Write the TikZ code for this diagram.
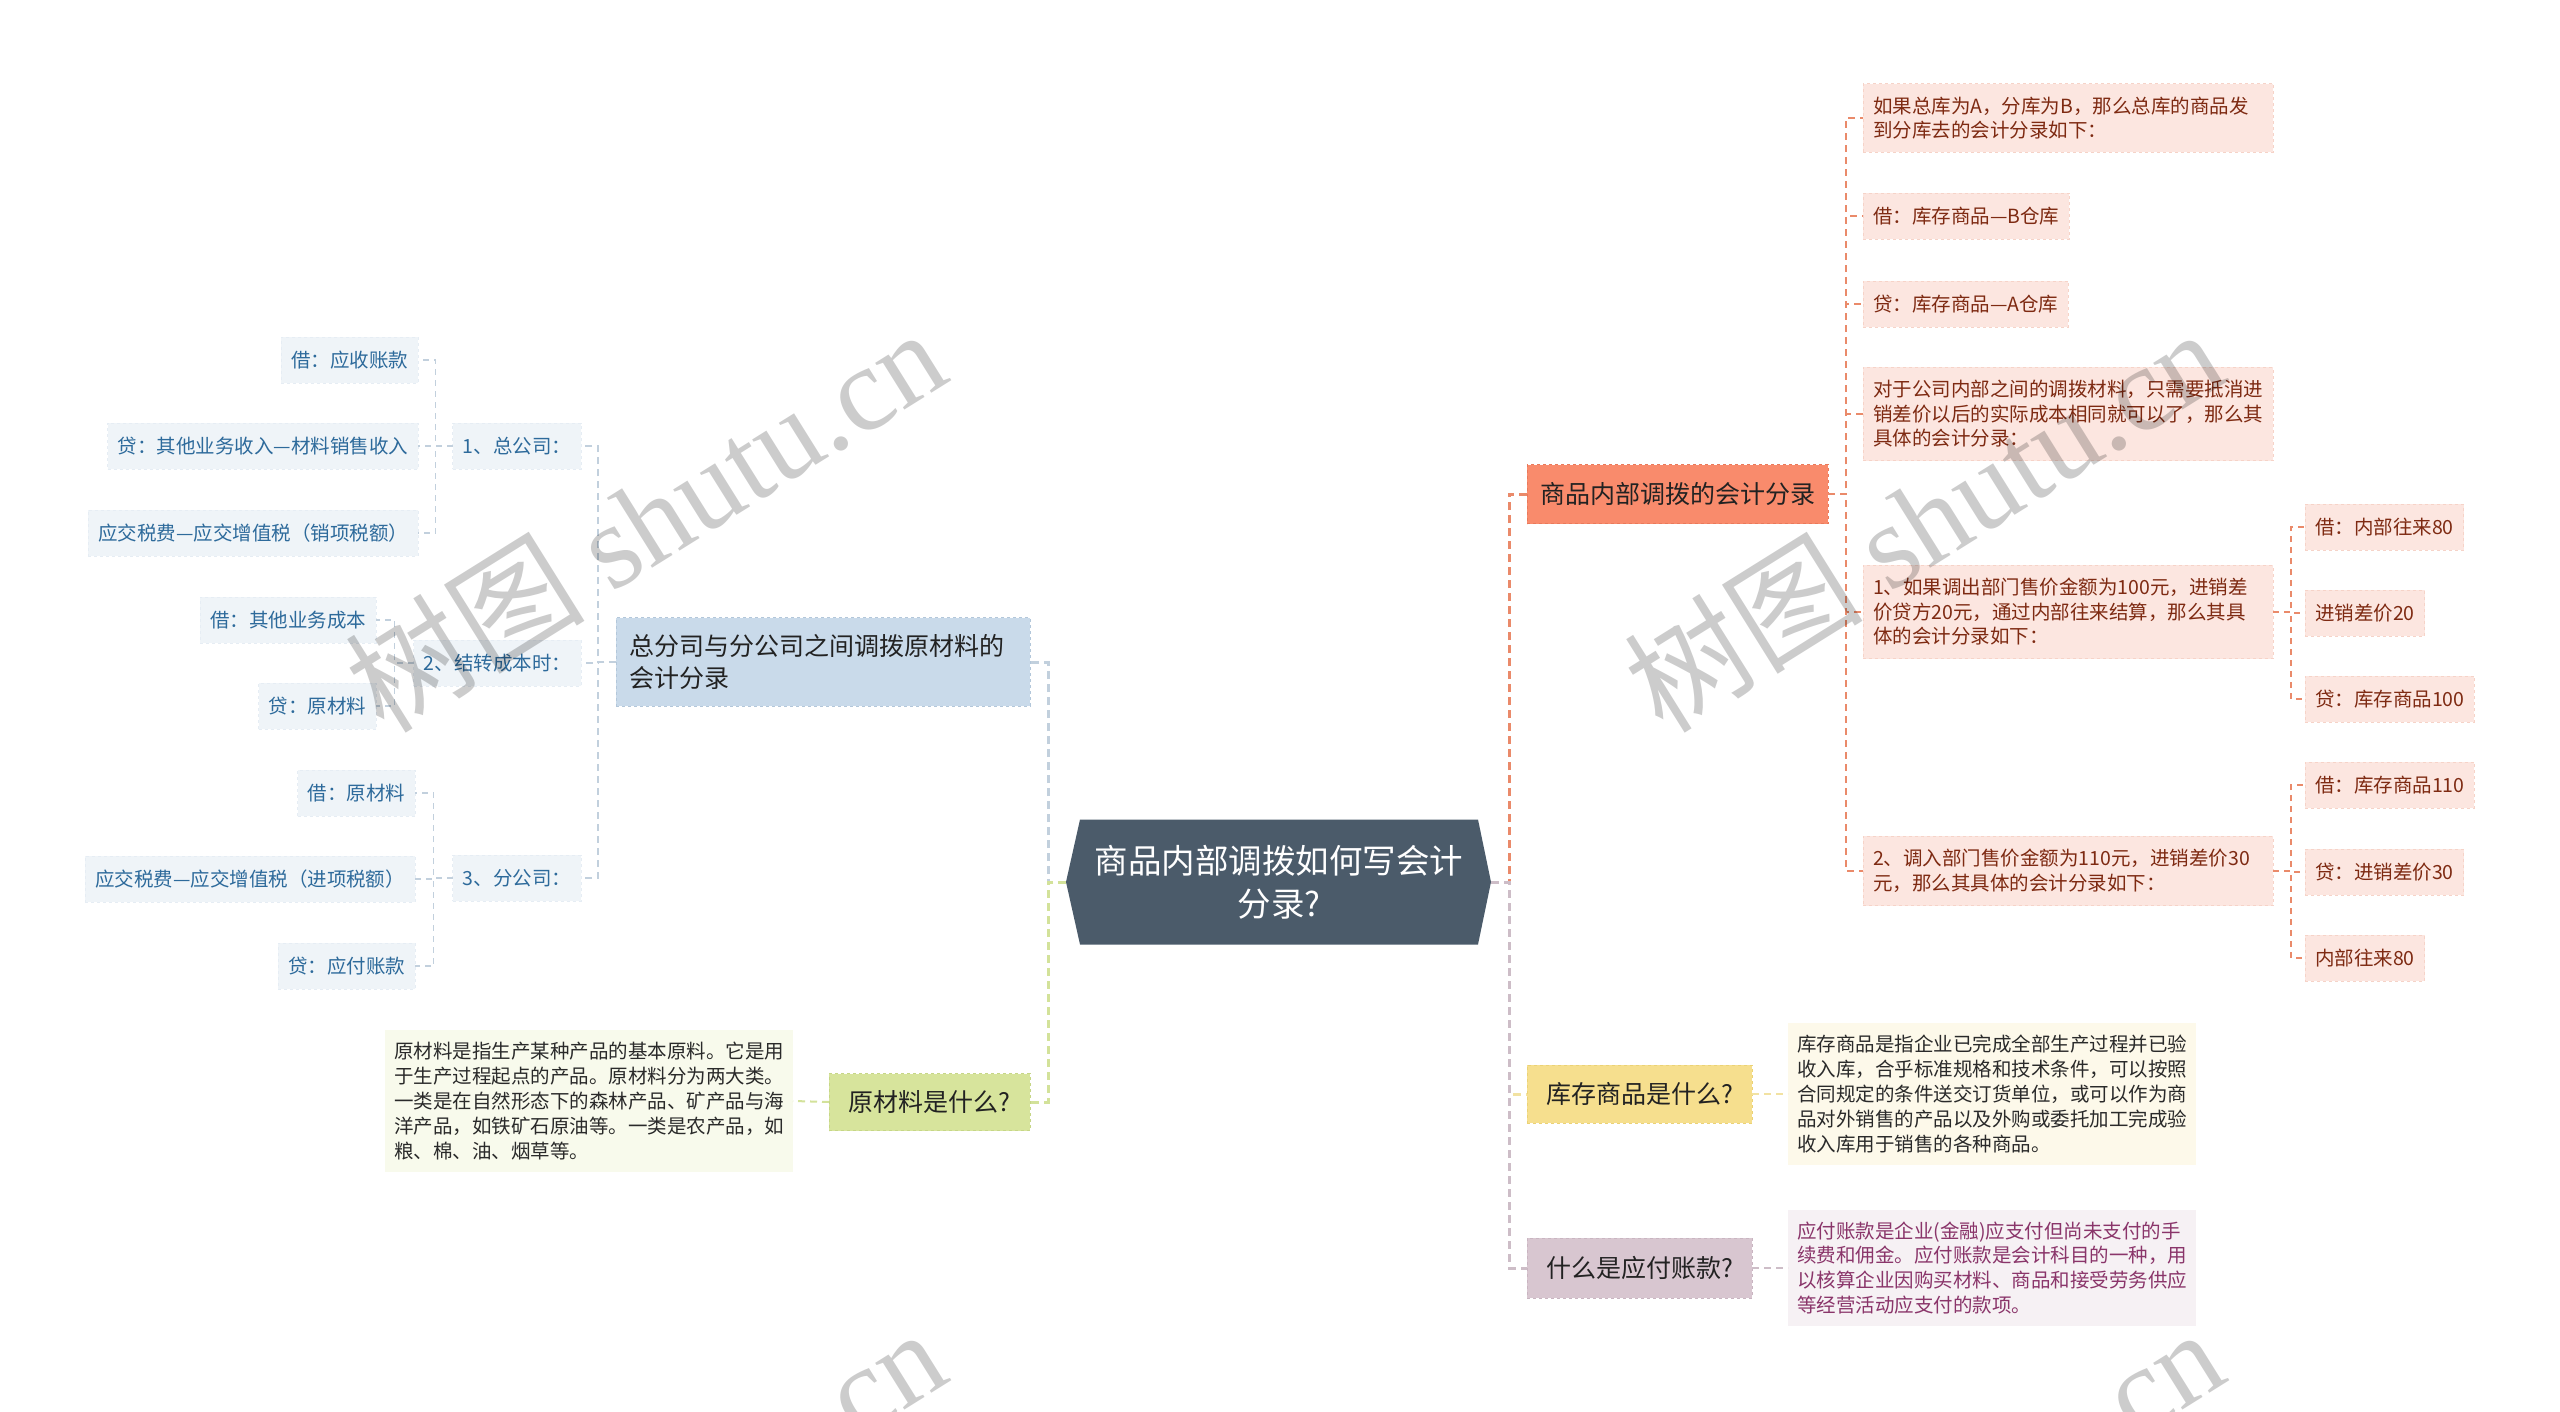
\documentclass[tikz,border=0pt]{standalone}
\usepackage{fontspec}
\setmainfont{Noto Sans CJK SC}
\newfontfamily\wmlatin{Liberation Serif}
\usetikzlibrary{backgrounds}
\definecolor{cfill}{HTML}{4B5B6A}
\definecolor{txt}{HTML}{222222}
\definecolor{ofill}{HTML}{F98B6C}
\definecolor{oborder}{HTML}{E97A5B}
\definecolor{oline}{HTML}{EA8A6A}
\definecolor{olfill}{HTML}{FCE6E0}
\definecolor{olborder}{HTML}{F6D3C8}
\definecolor{oltext}{HTML}{7E2A12}
\definecolor{bfill}{HTML}{C9DAEA}
\definecolor{bborder}{HTML}{B3C7DA}
\definecolor{bline}{HTML}{C2D0DD}
\definecolor{blfill}{HTML}{EFF4F8}
\definecolor{blborder}{HTML}{E6EDF4}
\definecolor{bltext}{HTML}{2D6A9B}
\definecolor{gfill}{HTML}{D7E49C}
\definecolor{gborder}{HTML}{C6D687}
\definecolor{gline}{HTML}{D3E29A}
\definecolor{gdfill}{HTML}{F8FAEC}
\definecolor{gdtext}{HTML}{2A2A2A}
\definecolor{yfill}{HTML}{F6DF8E}
\definecolor{yborder}{HTML}{EBD276}
\definecolor{yline}{HTML}{F2E2A2}
\definecolor{ydfill}{HTML}{FDF9EA}
\definecolor{ydtext}{HTML}{2A2A2A}
\definecolor{mfill}{HTML}{D8C6D0}
\definecolor{mborder}{HTML}{C9B5C1}
\definecolor{mline}{HTML}{CDBDC7}
\definecolor{mdfill}{HTML}{F6F1F4}
\definecolor{mdtext}{HTML}{8A356A}
\tikzset{
  every node/.style={inner sep=0pt, outer sep=0pt},
  hub/.style={minimum width=398pt, minimum height=125pt, text=white, align=center,
    font=\fontsize{33.5}{43}\selectfont},
  mainbox/.style={fill=#1fill, draw=#1border, dashed, line width=1pt, text=txt,
    font=\fontsize{25}{32}\selectfont, inner xsep=13pt, inner ysep=16.5pt},
  leaf/.style={fill=#1lfill, draw=#1lborder, dashed, line width=0.8pt, text=#1ltext,
    font=\fontsize{19.5}{24.5}\selectfont, inner xsep=10pt, inner ysep=13pt, align=left},
  one/.style={minimum height=46pt},
  desc/.style={fill=#1dfill, text=#1dtext, font=\fontsize{19.5}{24.9}\selectfont,
    align=left, inner xsep=9pt, inner ysep=12pt},
  connA/.style={draw=#1, line width=3pt, dash pattern=on 8pt off 5pt},
  connB/.style={draw=#1, line width=2pt, dash pattern=on 7pt off 5pt},
  connC/.style={draw=#1, line width=1.5pt, dash pattern=on 6pt off 5pt},
  wm/.style={text=black, opacity=0.2, font=\fontsize{120}{120}\selectfont}
}
\begin{document}
\begin{tikzpicture}[x=1pt,y=-1pt]
\useasboundingbox (0,0) rectangle (2560,1412);

% central node
\node[hub] (c) at (1279,882) {商品内部调拨如何写会计\\分录?};
\coordinate (cL) at (1066,882);
\coordinate (cR) at (1491,882);
\begin{scope}[on background layer]
\fill[white] (0,0) rectangle (2560,1412);
\fill[cfill] (cL) -- (c.north west) -- (c.north east) -- (cR) -- (c.south east) -- (c.south west) -- cycle;
\end{scope}

% main branches
\node[mainbox=b, anchor=west, text width=388pt, align=left] (B) at (616,662) {总分司与分公司之间调拨原材料的\\会计分录};
\node[mainbox=g, anchor=east, minimum width=201pt, minimum height=57pt] (G) at (1030,1102) {原材料是什么?};
\node[mainbox=o, anchor=west, minimum width=300pt, minimum height=59pt] (O) at (1527,494) {商品内部调拨的会计分录};
\node[mainbox=y, anchor=west, minimum width=225pt, minimum height=58pt] (Y) at (1527,1094) {库存商品是什么?};
\node[mainbox=m, anchor=west, minimum width=225pt, minimum height=60pt] (M) at (1527,1268) {什么是应付账款?};

% descriptions
\node[desc=g, anchor=east] (GD) at (793,1101) {原材料是指生产某种产品的基本原料。它是用\\于生产过程起点的产品。原材料分为两大类。\\一类是在自然形态下的森林产品、矿产品与海\\洋产品，如铁矿石原油等。一类是农产品，如\\粮、棉、油、烟草等。};
\node[desc=y, anchor=west] (YD) at (1788,1094) {库存商品是指企业已完成全部生产过程并已验\\收入库，合乎标准规格和技术条件，可以按照\\合同规定的条件送交订货单位，或可以作为商\\品对外销售的产品以及外购或委托加工完成验\\收入库用于销售的各种商品。};
\node[desc=m, anchor=west] (MD) at (1788,1268) {应付账款是企业(金融)应支付但尚未支付的手\\续费和佣金。应付账款是会计科目的一种，用\\以核算企业因购买材料、商品和接受劳务供应\\等经营活动应支付的款项。};

% left subtree
\node[leaf=b, one, anchor=east] (L1) at (581,446) {1、总公司：};
\node[leaf=b, one, anchor=east] (L2) at (581,663) {2、结转成本时：};
\node[leaf=b, one, anchor=east] (L3) at (581,878) {3、分公司：};
\node[leaf=b, one, anchor=east] (L1a) at (418,360) {借：应收账款};
\node[leaf=b, one, anchor=east] (L1b) at (418,446) {贷：其他业务收入—材料销售收入};
\node[leaf=b, one, anchor=east] (L1c) at (418,533) {应交税费—应交增值税（销项税额）};
\node[leaf=b, one, anchor=east] (L2a) at (376,620) {借：其他业务成本};
\node[leaf=b, one, anchor=east] (L2b) at (376,706) {贷：原材料};
\node[leaf=b, one, anchor=east] (L3a) at (415,793) {借：原材料};
\node[leaf=b, one, anchor=east] (L3b) at (415,879) {应交税费—应交增值税（进项税额）};
\node[leaf=b, one, anchor=east] (L3c) at (415,966) {贷：应付账款};

% right subtree
\node[leaf=o, anchor=west, text width=390pt] (R1) at (1863,118) {如果总库为A，分库为B，那么总库的商品发\\到分库去的会计分录如下：};
\node[leaf=o, one, anchor=west] (R2) at (1863,216) {借：库存商品—B仓库};
\node[leaf=o, one, anchor=west] (R3) at (1863,304) {贷：库存商品—A仓库};
\node[leaf=o, anchor=west, text width=390pt] (R4) at (1863,414) {对于公司内部之间的调拨材料，只需要抵消进\\销差价以后的实际成本相同就可以了，那么其\\具体的会计分录：};
\node[leaf=o, anchor=west, text width=390pt] (R5) at (1863,612) {1、如果调出部门售价金额为100元，进销差\\价贷方20元，通过内部往来结算，那么其具\\体的会计分录如下：};
\node[leaf=o, anchor=west, text width=390pt] (R6) at (1863,871) {2、调入部门售价金额为110元，进销差价30\\元，那么其具体的会计分录如下：};
\node[leaf=o, one, anchor=west] (R5a) at (2305,527) {借：内部往来80};
\node[leaf=o, one, anchor=west] (R5b) at (2305,613) {进销差价20};
\node[leaf=o, one, anchor=west] (R5c) at (2305,699) {贷：库存商品100};
\node[leaf=o, one, anchor=west] (R6a) at (2305,785) {借：库存商品110};
\node[leaf=o, one, anchor=west] (R6b) at (2305,872) {贷：进销差价30};
\node[leaf=o, one, anchor=west] (R6c) at (2305,958) {内部往来80};

% connectors from hub
\draw[connA=bline] (cL) -- ++(-18,0) |- (B.east);
\draw[connA=gline] (cL) -- ++(-18,0) |- (G.east);
\draw[connA=oline] (cR) -- ++(18,0) |- (O.west);
\draw[connA=yline] (cR) -- ++(18,0) |- (Y.west);
\draw[connA=mline] (cR) -- ++(18,0) |- (M.west);

% descriptions
\draw[connB=gline] (G.west) -- (GD.east);
\draw[connB=yline] (Y.east) -- (YD.west);
\draw[connB=mline] (M.east) -- (MD.west);

% left subtree connectors
\foreach \k in {L1,L2,L3} \draw[connB=bline] (B.west) -- ++(-18,0) |- (\k.east);
\foreach \k in {L1a,L1b,L1c} \draw[connC=bline] (L1.west) -- ++(-17,0) |- (\k.east);
\foreach \k in {L2a,L2b} \draw[connC=bline] (L2.west) -- ++(-19,0) |- (\k.east);
\foreach \k in {L3a,L3b,L3c} \draw[connC=bline] (L3.west) -- ++(-19,0) |- (\k.east);

% right subtree connectors
\foreach \k in {R1,R2,R3,R4,R5,R6} \draw[connB=oline] (O.east) -- ++(18,0) |- (\k.west);
\foreach \k in {R5a,R5b,R5c} \draw[connC=oline] (R5.east) -- ++(18,0) |- (\k.west);
\foreach \k in {R6a,R6b,R6c} \draw[connC=oline] (R6.east) -- ++(18,0) |- (\k.west);

% watermarks
\begin{scope}
\clip (0,0) rectangle (2560,1412);
\node[wm, rotate=32] (W1) at (645,519) {树图 {\wmlatin shutu.cn}};
\node[wm, rotate=32] (W2) at (1923,519) {树图 {\wmlatin shutu.cn}};
\node[wm, rotate=32] (W3) at (645,1519) {树图 {\wmlatin shutu.cn}};
\node[wm, rotate=32] (W4) at (1923,1519) {树图 {\wmlatin shutu.cn}};
\end{scope}
\end{tikzpicture}
\end{document}
